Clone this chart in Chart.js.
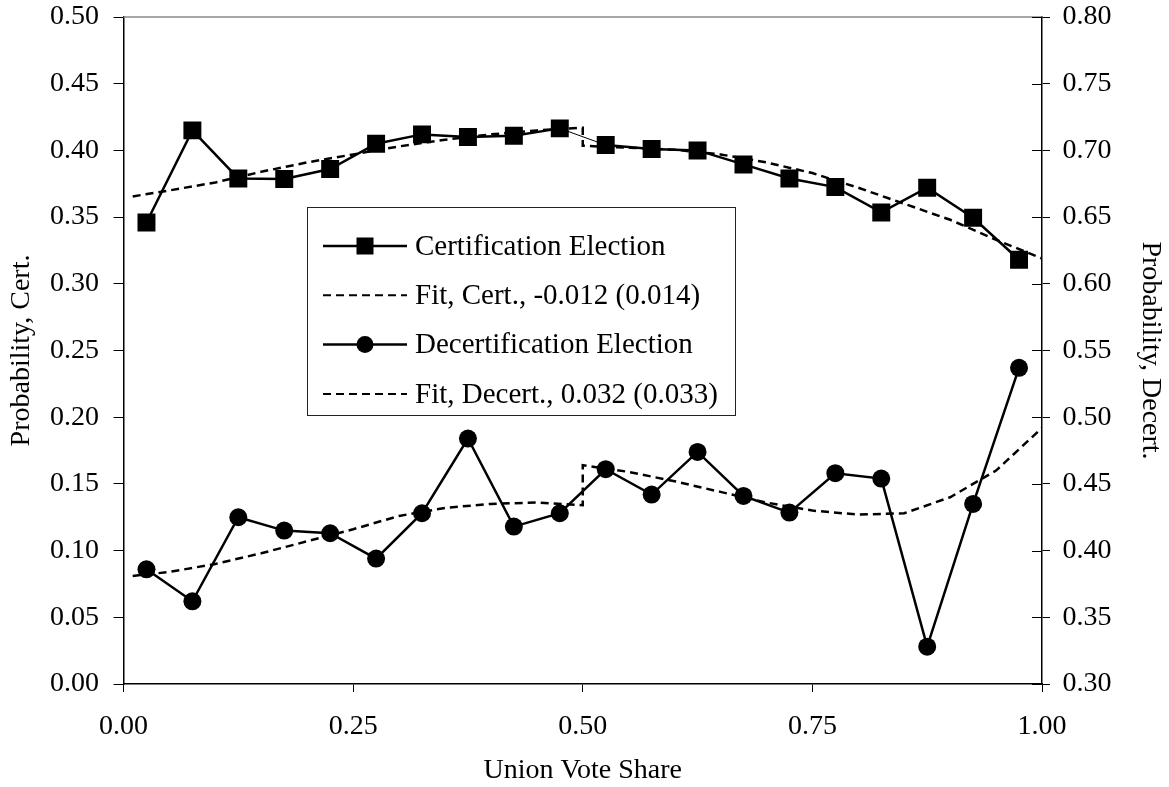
<!DOCTYPE html>
<html>
<head>
<meta charset="utf-8">
<script src="https://cdn.jsdelivr.net/npm/chart.js@4/dist/chart.umd.min.js"></script>
<style>
  html, body { margin: 0; padding: 0; background: #fff; }
  #wrap { width: 1169px; height: 787px; }
</style>
</head>
<body>
<div id="wrap"><canvas id="c" width="1169" height="787"></canvas></div>
<script>
// Bin midpoints of union vote share
const voteShare = [0.025, 0.075, 0.125, 0.175, 0.225, 0.275, 0.325, 0.375, 0.425, 0.475,
                   0.525, 0.575, 0.625, 0.675, 0.725, 0.775, 0.825, 0.875, 0.925, 0.975];

// Certification elections (left axis)
const certProb = [0.346, 0.415, 0.379, 0.3785, 0.386, 0.405, 0.412, 0.410, 0.411, 0.4165,
                  0.404, 0.401, 0.400, 0.3895, 0.379, 0.3725, 0.3535, 0.372, 0.3495, 0.318];

// Decertification elections (right axis)
const decertProb = [0.386, 0.362, 0.425, 0.415, 0.413, 0.394, 0.428, 0.484, 0.418, 0.428,
                    0.461, 0.442, 0.474, 0.441, 0.4285, 0.458, 0.454, 0.328, 0.435, 0.537];

// Fitted curves, split at the 0.50 threshold
const certFitX = [0.01, 0.05, 0.10, 0.15, 0.20, 0.25, 0.30, 0.35, 0.40, 0.45, 0.50,
                  0.50, 0.55, 0.60, 0.65, 0.70, 0.75, 0.80, 0.85, 0.90, 0.95, 1.00];
const certFitY = [0.3655, 0.370, 0.376, 0.384, 0.391, 0.397, 0.403, 0.408, 0.412, 0.415, 0.417,
                  0.4035, 0.402, 0.4005, 0.397, 0.391, 0.383, 0.372, 0.360, 0.348, 0.333, 0.319];

const decertFitX = [0.01, 0.05, 0.10, 0.15, 0.20, 0.25, 0.30, 0.35, 0.40, 0.45, 0.50,
                    0.50, 0.55, 0.60, 0.65, 0.70, 0.75, 0.80, 0.85, 0.90, 0.95, 1.00];
const decertFitY = [0.381, 0.384, 0.390, 0.398, 0.407, 0.416, 0.426, 0.432, 0.435, 0.436, 0.434,
                    0.464, 0.459, 0.452, 0.444, 0.436, 0.430, 0.427, 0.428, 0.440, 0.460, 0.492];

const seriesLabels = [
  'Certification Election',
  'Fit, Cert., -0.012 (0.014)',
  'Decertification Election',
  'Fit, Decert., 0.032 (0.033)'
];

const xTitle = 'Union Vote Share';
const yLeftTitle = 'Probability, Cert.';
const yRightTitle = 'Probability, Decert.';

const FONT = '"Liberation Serif", "Times New Roman", serif';
const INK = '#000';

const pairs = (xs, ys) => xs.map((x, i) => ({ x, y: ys[i] }));

// Inward ticks on the right axis and the thin grey top frame line
const framePlugin = {
  id: 'frame',
  afterDatasetsDraw(chart) {
    const { ctx, chartArea: a } = chart;
    const y1 = chart.scales.y1;
    ctx.save();
    ctx.strokeStyle = '#8a8a8a';
    ctx.lineWidth = 1.5;
    ctx.beginPath();
    ctx.moveTo(a.left, a.top);
    ctx.lineTo(a.right, a.top);
    ctx.stroke();
    ctx.strokeStyle = INK;
    ctx.lineWidth = 1;
    y1.ticks.forEach(t => {
      const py = Math.round(y1.getPixelForValue(t.value)) + 0.5;
      ctx.beginPath();
      ctx.moveTo(a.right - 10, py);
      ctx.lineTo(a.right, py);
      ctx.stroke();
    });
    ctx.restore();
  }
};

// Boxed legend inside the plot area
const boxLegendPlugin = {
  id: 'boxLegend',
  afterDraw(chart) {
    const { ctx, chartArea: a } = chart;
    const bx = a.left + 183.5, by = a.top + 190, bw = 428, bh = 208;
    ctx.save();
    ctx.fillStyle = '#fff';
    ctx.fillRect(bx, by, bw, bh);
    ctx.strokeStyle = '#222';
    ctx.lineWidth = 1;
    ctx.strokeRect(bx + 0.5, by + 0.5, bw, bh);
    chart.data.datasets.forEach((ds, i) => {
      const ry = by + 39 + i * 49.3;
      const x0 = bx + 16, x1 = bx + 100, mx = bx + 58;
      ctx.strokeStyle = INK;
      ctx.lineWidth = ds.borderDash ? 2 : 2.5;
      ctx.setLineDash(ds.borderDash || []);
      ctx.beginPath();
      ctx.moveTo(x0, ry);
      ctx.lineTo(x1, ry);
      ctx.stroke();
      ctx.setLineDash([]);
      ctx.fillStyle = INK;
      if (ds.pointStyle === 'rect') {
        ctx.fillRect(mx - 8.5, ry - 8.5, 17, 17);
      } else if (ds.pointStyle === 'circle') {
        ctx.beginPath();
        ctx.arc(mx, ry, 8.5, 0, Math.PI * 2);
        ctx.fill();
      }
      ctx.font = '29px ' + FONT;
      ctx.textBaseline = 'middle';
      ctx.textAlign = 'left';
      ctx.fillText(ds.label, bx + 108, ry + 1);
    });
    ctx.restore();
  }
};

const tickFont = { family: FONT, size: 28 };
const fmt = v => Number(v).toFixed(2);

// Fixed axis box sizes so the plot area sits at a set position
const fixVertical = w => s => { s.width = w; s.paddingTop = 0; s.paddingBottom = 0; };
const fixHorizontal = h => s => { s.height = h; s.paddingLeft = 0; s.paddingRight = 0; };

new Chart(document.getElementById('c'), {
  type: 'line',
  data: {
    datasets: [
      {
        label: seriesLabels[0],
        data: pairs(voteShare, certProb),
        yAxisID: 'y',
        borderColor: INK,
        backgroundColor: INK,
        borderWidth: 2.5,
        pointStyle: 'rect',
        pointRadius: 12.7,
        pointBorderWidth: 0,
        tension: 0,
        segment: {
          borderWidth: c => (c.p0.parsed.x > 0.45 && c.p1.parsed.x < 0.55) ? 1 : 2.5
        }
      },
      {
        label: seriesLabels[1],
        data: pairs(certFitX, certFitY),
        yAxisID: 'y',
        borderColor: INK,
        borderWidth: 2.5,
        borderDash: [8, 5],
        pointRadius: 0,
        tension: 0
      },
      {
        label: seriesLabels[2],
        data: pairs(voteShare, decertProb),
        yAxisID: 'y1',
        borderColor: INK,
        backgroundColor: INK,
        borderWidth: 2.5,
        pointStyle: 'circle',
        pointRadius: 9,
        pointBorderWidth: 0,
        tension: 0
      },
      {
        label: seriesLabels[3],
        data: pairs(decertFitX, decertFitY),
        yAxisID: 'y1',
        borderColor: INK,
        borderWidth: 2.5,
        borderDash: [8, 5],
        pointRadius: 0,
        tension: 0
      }
    ]
  },
  options: {
    responsive: false,
    animation: false,
    devicePixelRatio: 1,
    layout: { padding: { top: 17, left: 0, right: 0, bottom: 0 } },
    plugins: {
      legend: { display: false },
      tooltip: { enabled: false }
    },
    scales: {
      x: {
        type: 'linear',
        min: 0, max: 1,
        afterFit: fixHorizontal(103),
        ticks: { stepSize: 0.25, callback: fmt, font: tickFont, color: INK, padding: 18, maxRotation: 0 },
        grid: { drawOnChartArea: false, tickLength: 8, color: INK, lineWidth: 1 },
        border: { color: INK, width: 1.5 },
        title: { display: true, text: xTitle, font: tickFont, color: INK, padding: { top: 0, bottom: 0 } }
      },
      y: {
        position: 'left',
        min: 0, max: 0.5,
        afterFit: fixVertical(123.5),
        ticks: { stepSize: 0.05, callback: fmt, font: tickFont, color: INK, padding: 14.5 },
        grid: { drawOnChartArea: false, tickLength: 10, color: INK, lineWidth: 1 },
        border: { color: INK, width: 1.5 },
        title: { display: true, text: yLeftTitle, font: tickFont, color: INK, padding: { top: 5, bottom: 0 } }
      },
      y1: {
        position: 'right',
        min: 0.3, max: 0.8,
        afterFit: fixVertical(127),
        ticks: { stepSize: 0.05, callback: fmt, font: tickFont, color: INK, padding: 12.5 },
        grid: { drawOnChartArea: false, tickLength: 8, color: INK, lineWidth: 1 },
        border: { color: INK, width: 1.5 },
        title: { display: true, text: yRightTitle, font: tickFont, color: INK, padding: { top: 2, bottom: 0 } }
      }
    }
  },
  plugins: [framePlugin, boxLegendPlugin]
});
</script>
</body>
</html>
